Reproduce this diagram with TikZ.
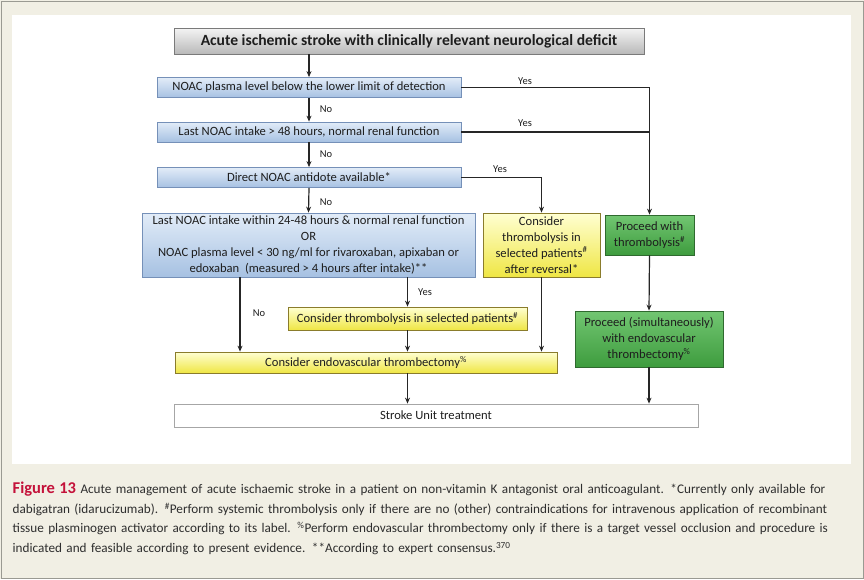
\documentclass[tikz,border=0pt]{standalone}
\usepackage{fontspec}
\setmainfont{Carlito}
\usetikzlibrary{arrows.meta,shadings,calc}
\definecolor{bgbeige}{HTML}{F1EFE4}
\definecolor{framegray}{HTML}{9A9A92}
\definecolor{linecol}{HTML}{262626}
\definecolor{txtcol}{HTML}{1E1E1E}
\definecolor{blueTop}{HTML}{E2ECF8}
\definecolor{blueBot}{HTML}{A6C1E2}
\definecolor{blueDraw}{HTML}{7590B8}
\definecolor{yelTop}{HTML}{FFFFD2}
\definecolor{yelBot}{HTML}{EFE644}
\definecolor{yelDraw}{HTML}{8A7C2C}
\definecolor{grnTop}{HTML}{72C672}
\definecolor{grnBot}{HTML}{3E9C3E}
\definecolor{grnDraw}{HTML}{2F6A2F}
\definecolor{titTop}{HTML}{F4F4F4}
\definecolor{titBot}{HTML}{B9B9B9}
\definecolor{titDraw}{HTML}{7A7A7A}
\definecolor{figred}{HTML}{C4123A}
\definecolor{captxt}{HTML}{2E2E2E}
\begin{document}
\begin{tikzpicture}[x=1pt,y=-1pt,
  basebox/.style={rectangle, inner sep=0pt, align=center, text=txtcol,
    font=\fontsize{12.6}{16}\selectfont, line width=0.8pt},
  titlebox/.style={basebox, top color=titTop, bottom color=titBot, draw=titDraw,
    font=\fontsize{15.6}{18}\selectfont\bfseries},
  bluebox/.style={basebox, top color=blueTop, bottom color=blueBot, draw=blueDraw},
  yelbox/.style={basebox, top color=yelTop, bottom color=yelBot, draw=yelDraw},
  grnbox/.style={basebox, top color=grnTop, bottom color=grnBot, draw=grnDraw},
  whitebox/.style={basebox, fill=white, draw=gray!70},
  arr/.style={-{Stealth[length=6pt,width=5pt]}, line width=1.2pt, draw=linecol},
  conn/.style={line width=1.2pt, draw=linecol},
  thickconn/.style={line width=2.8pt, draw=linecol},
  lbl/.style={font=\fontsize{10.5}{12}\selectfont, text=txtcol, inner sep=0pt}
]
\useasboundingbox (0,0) rectangle (864,579);
\fill[bgbeige] (0,0) rectangle (864,579);
\draw[framegray, line width=1pt] (1,1) rectangle (863,578);
\fill[white] (12,15) rectangle (851,464);

% nodes
\node[titlebox, minimum width=470pt, minimum height=26pt] (t) at (409,41)
  {Acute ischemic stroke with clinically relevant neurological deficit};
\node[bluebox, minimum width=304pt, minimum height=20pt] (b1) at (309,87.5)
  {NOAC plasma level below the lower limit of detection};
\node[bluebox, minimum width=304pt, minimum height=20pt] (b2) at (309,132)
  {Last NOAC intake > 48 hours, normal renal function};
\node[bluebox, minimum width=304pt, minimum height=20pt] (b3) at (309,177.5)
  {Direct NOAC antidote available*};
\node[bluebox, minimum width=333pt, minimum height=64pt] (b4) at (308.5,245)
  {Last NOAC intake within 24-48 hours \& normal renal function\\
   OR\\
   NOAC plasma level < 30 ng/ml for rivaroxaban, apixaban or\\
   edoxaban\ \ (measured > 4 hours after intake)**};
\node[yelbox, minimum width=117pt, minimum height=64pt] (y1) at (541.5,245)
  {Consider\\ thrombolysis in\\ selected patients\textsuperscript{\#}\\ after reversal*};
\node[grnbox, minimum width=89pt, minimum height=40pt] (g1) at (649.5,235)
  {Proceed with\\ thrombolysis\textsuperscript{\#}};
\node[yelbox, minimum width=239pt, minimum height=23pt] (y2) at (407.5,318.5)
  {Consider thrombolysis in selected patients\textsuperscript{\#}};
\node[yelbox, minimum width=382pt, minimum height=21pt] (endo) at (366,362.5)
  {Consider endovascular thrombectomy\textsuperscript{\%}};
\node[grnbox, minimum width=148pt, minimum height=56pt] (g2) at (649,339)
  {Proceed (simultaneously)\\ with endovascular\\ thrombectomy\textsuperscript{\%}};
\node[whitebox, minimum width=524pt, minimum height=23pt] (su) at (436,415.5)
  {Stroke Unit treatment};
\coordinate (xno) at (240,0);

% connectors
\draw[arr] (t.south -| b1.north) -- (b1.north);
\draw[arr] (b1.south) -- (b2.north);
\draw[arr] (b2.south) -- (b3.north);
\draw[arr] (b3.south) -- (b4.north);
\draw[arr] (b1.east) -| (g1.north);
\draw[thickconn] (b2.east) -- (b2.east -| g1.north);
\draw[arr] (b3.east) -| (y1.north);
\draw[arr] (b4.south -| xno) -- (endo.north -| xno);
\draw[arr] (b4.south -| y2.north) -- (y2.north);
\draw[arr] (y2.south) -- (y2.south |- endo.north);
\draw[arr] (y1.south) -- (y1.south |- endo.north);
\draw[arr] (endo.south -| y2.south) -- (su.north -| y2.south);
\draw[arr] (g1.south) -- (g2.north);
\draw[arr] (g2.south) -- (g2.south |- su.north);

% labels
\node[lbl] (l1) at (525,81) {Yes};
\node[lbl] (l2) at (326,109) {No};
\node[lbl] (l3) at (525,123) {Yes};
\node[lbl] (l4) at (326,154) {No};
\node[lbl] (l5) at (500,169) {Yes};
\node[lbl] (l6) at (326,202) {No};
\node[lbl] (l7) at (425,292) {Yes};
\node[lbl] (l8) at (259,313) {No};

% caption
\node[anchor=north west, inner sep=0pt, text width=838pt, align=left, text=captxt,
  font=\fontsize{13.2}{19.6}\selectfont] (cap) at (12.5,482)
  {\makebox[\linewidth][s]{{\fontsize{16.5}{19.6}\selectfont\bfseries\color{figred}Figure 13} Acute management of acute ischaemic stroke in a patient on non-vitamin K antagonist oral anticoagulant. *Currently only available for}\\
   \makebox[\linewidth][s]{dabigatran (idarucizumab). \textsuperscript{\#}Perform systemic thrombolysis only if there are no (other) contraindications for intravenous application of recombinant}\\
   \makebox[\linewidth][s]{tissue plasminogen activator according to its label. \textsuperscript{\%}Perform endovascular thrombectomy only if there is a target vessel occlusion and procedure is}\\
   indicated and feasible according to present evidence. **According to expert consensus.\textsuperscript{370}};
\end{tikzpicture}
\end{document}
